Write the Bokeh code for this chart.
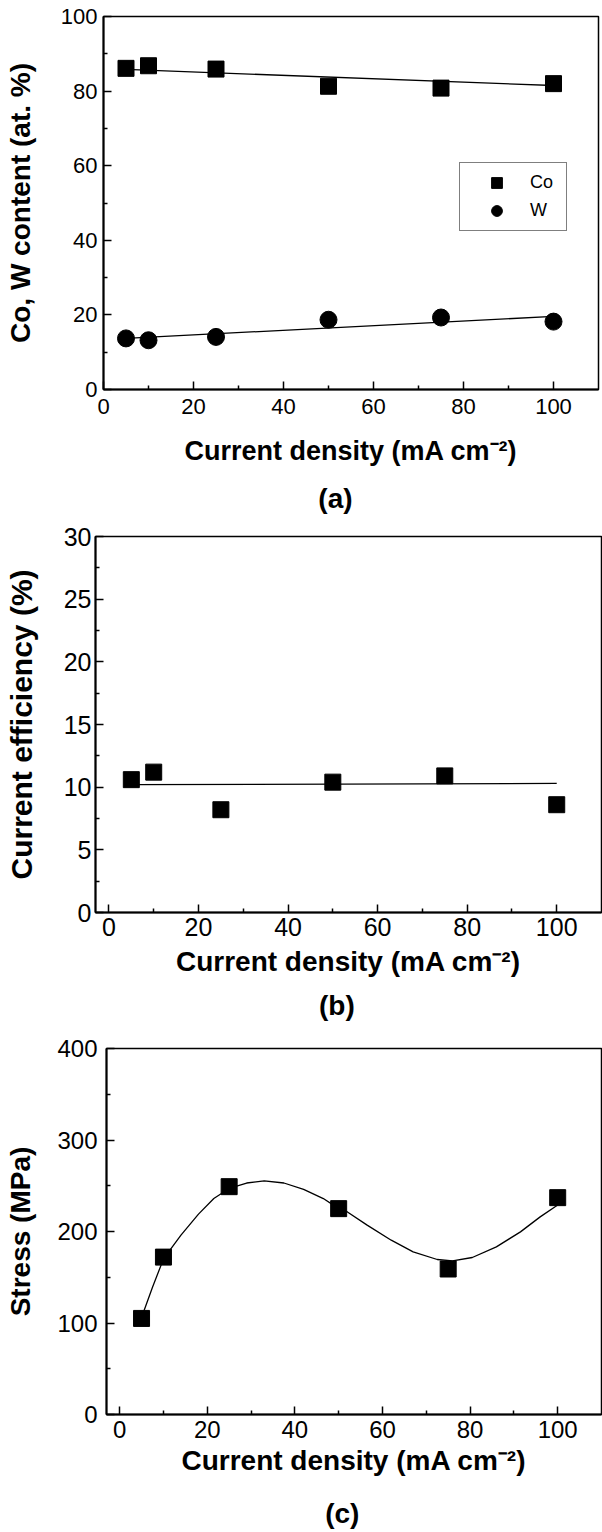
from bokeh.plotting import figure
from bokeh.models import Range1d, FixedTicker, LinearAxis, Legend, LegendItem
from bokeh.embed import file_html
from bokeh.resources import INLINE

# ---------------- data ----------------
current_density = [5, 10, 25, 50, 75, 100]

co_content = [86.1, 86.8, 85.9, 81.3, 80.8, 82.0]
w_content = [13.7, 13.2, 14.1, 18.7, 19.3, 18.2]
fit_x = [5, 100]
co_fit = [85.8, 81.5]
w_fit = [13.7, 19.6]

efficiency = [10.6, 11.2, 8.2, 10.4, 10.9, 8.6]
eff_fit = [10.2, 10.3]

stress = [105, 172, 249, 225, 159, 237]
curve_x = [5, 7.5, 10, 14, 18, 21.5, 25, 29, 33, 37.5, 42, 46.5, 50, 52, 56.5,
           62, 67, 72.5, 76, 80.5, 86, 91.5, 96, 100]
curve_y = [106, 139, 170, 196, 219, 236, 247, 253, 255.3, 253, 246, 236, 225,
           221.4, 207, 190.5, 177.7, 169.4, 167.9, 171.6, 183.2, 199.6, 216, 229]

x_ticks = [0, 20, 40, 60, 80, 100]
x_minor = [10, 30, 50, 70, 90]

XLABEL = "Current density (mA cm\u207b\u00b2)"
FONT = "Liberation Sans"
NBSP = "\u00a0"


def make_fig(height, left, right, top, bottom, xr, yr, yticks, yminor,
             tick_size, ylabel, ylabel_size, xlabel_size,
             tsx, lsx, tsy, lsy, sub, sub_pad, sub_standoff):
    p = figure(width=602, height=height,
               x_range=Range1d(*xr), y_range=Range1d(*yr),
               output_backend="svg", toolbar_location=None,
               min_border_left=left, min_border_right=right,
               min_border_top=top, min_border_bottom=bottom)
    p.grid.visible = False
    p.background_fill_color = "white"
    p.border_fill_color = "white"
    p.outline_line_color = "black"
    p.outline_line_width = 1.5
    p.outline_line_alpha = 1.0
    p.xaxis.ticker = FixedTicker(ticks=x_ticks, minor_ticks=x_minor)
    p.yaxis.ticker = FixedTicker(ticks=yticks, minor_ticks=yminor)
    for ax in (p.xaxis[0], p.yaxis[0]):
        ax.axis_line_width = 2
        ax.axis_line_color = "black"
        ax.major_tick_in = 8
        ax.major_tick_out = 0
        ax.minor_tick_in = 4
        ax.minor_tick_out = 0
        ax.major_tick_line_width = 1.5
        ax.minor_tick_line_width = 1.5
        ax.major_tick_line_color = "black"
        ax.minor_tick_line_color = "black"
        ax.major_label_text_font = FONT
        ax.major_label_text_font_size = tick_size
        ax.major_label_text_color = "black"
        ax.axis_label_text_font = FONT
        ax.axis_label_text_font_style = "bold"
        ax.axis_label_text_color = "black"
    p.xaxis.axis_label = XLABEL
    p.xaxis.axis_label_text_font_size = xlabel_size
    p.yaxis.axis_label = ylabel
    p.yaxis.axis_label_text_font_size = ylabel_size
    p.xaxis.major_label_standoff = tsx
    p.xaxis.axis_label_standoff = lsx
    p.yaxis.major_label_standoff = tsy
    p.yaxis.axis_label_standoff = lsy
    # panel caption "(a)", "(b)", "(c)" as the label of a bare extra axis
    cap = LinearAxis(ticker=FixedTicker(ticks=[]),
                     axis_label=sub + NBSP * sub_pad,
                     axis_label_standoff=sub_standoff,
                     axis_label_text_font=FONT,
                     axis_label_text_font_size="28px",
                     axis_label_text_font_style="bold",
                     axis_label_text_color="black",
                     axis_line_color=None, major_tick_line_color=None,
                     minor_tick_line_color=None, major_label_standoff=0,
                     major_tick_in=0, major_tick_out=0,
                     minor_tick_in=0, minor_tick_out=0)
    p.add_layout(cap, "below")
    return p


# ---------------- panel (a) ----------------
pa = make_fig(520, 103, 4, 16, 131, (0, 110), (0, 100),
              [0, 20, 40, 60, 80, 100], [10, 30, 50, 70, 90],
              "22px", "Co, W content (at. %)", "28px", "27px",
              9, 19, 6, 22, "(a)", 4, 14)
pa.line(fit_x, co_fit, line_color="black", line_width=1.3)
pa.line(fit_x, w_fit, line_color="black", line_width=1.3)
r_co = pa.scatter(current_density, co_content, marker="square", size=16,
                  fill_color="black", line_color="black")
r_w = pa.scatter(current_density, w_content, marker="circle", size=17,
                 fill_color="black", line_color="black")
legend = Legend(items=[LegendItem(label="Co", renderers=[r_co]),
                       LegendItem(label="W", renderers=[r_w])],
                location=(356, 158))
legend.padding = 6
legend.margin = 0
legend.glyph_width = 61
legend.glyph_height = 27
legend.spacing = 1
legend.label_standoff = 3
legend.label_width = 30
legend.label_height = 20
legend.label_text_font = FONT
legend.label_text_font_size = "18px"
legend.label_text_color = "black"
legend.border_line_color = "black"
legend.border_line_width = 1
legend.background_fill_color = "white"
legend.background_fill_alpha = 1.0
pa.add_layout(legend)

# ---------------- panel (b) ----------------
pb = make_fig(510, 95, 1, 16, 118, (-3, 110), (0, 30),
              [0, 5, 10, 15, 20, 25, 30], [2.5, 7.5, 12.5, 17.5, 22.5, 27.5],
              "25px", "Current efficiency (%)", "30px", "28px",
              5, 7, 4, 23, "(b)", 3, 10)
pb.line(fit_x, eff_fit, line_color="black", line_width=1.3)
pb.scatter(current_density, efficiency, marker="square", size=16,
           fill_color="black", line_color="black")

# ---------------- panel (c) ----------------
pc = make_fig(502, 106, 1, 18, 118, (-3, 110), (0, 400),
              [0, 100, 200, 300, 400], [50, 150, 250, 350],
              "24px", "Stress (MPa)", "28px", "28px",
              6, 4, 9, 18, "(c)", 3, 19)
pc.line(curve_x, curve_y, line_color="black", line_width=1.3)
pc.scatter(current_density, stress, marker="square", size=16,
           fill_color="black", line_color="black")

open("out.html", "w").write(file_html([pa, pb, pc], INLINE))
